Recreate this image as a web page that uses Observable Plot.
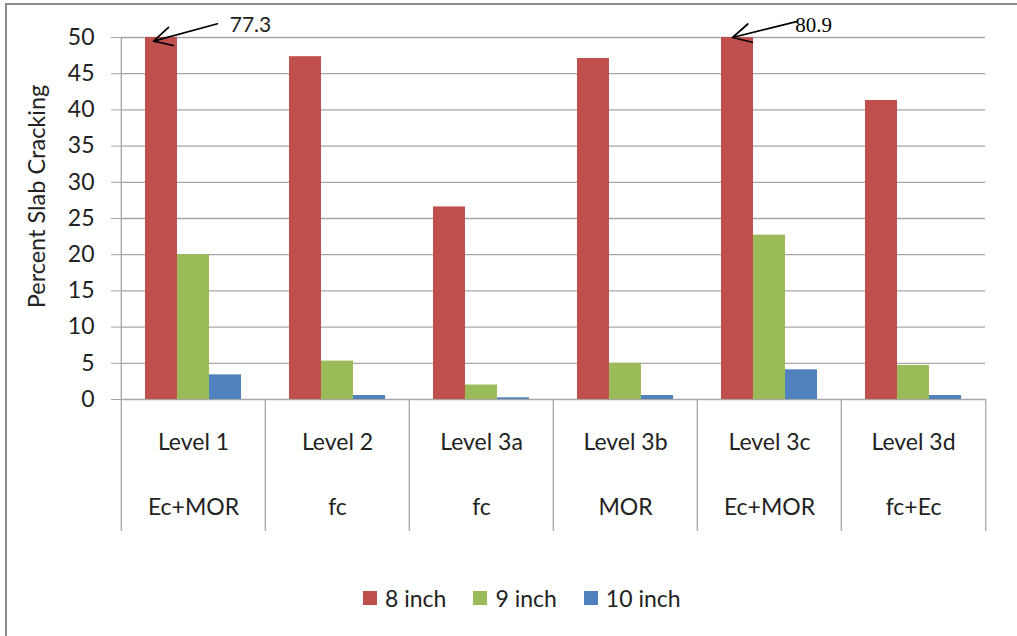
<!DOCTYPE html>
<html>
<head>
<meta charset="utf-8">
<script src="https://cdn.jsdelivr.net/npm/d3@7"></script>
<script src="https://cdn.jsdelivr.net/npm/@observablehq/plot@0.6"></script>
<style>
  html, body { margin: 0; padding: 0; background: #fff; overflow: hidden; }
  #page { position: relative; width: 1017px; height: 636px; overflow: hidden; font-family: Lato, "Open Sans", sans-serif; }
  #border { position: absolute; left: 5px; top: 3px; width: 1200px; height: 800px; border: 2px solid #8c8c8c; box-sizing: border-box; }
  #chart { position: absolute; left: 0; top: 0; }
  #legend { position: absolute; left: 363px; top: 584px; display: flex; align-items: center; font-size: 23px; color: #222; }
  #legend .item { display: flex; align-items: center; margin-right: 27px; }
  #legend .sw { width: 14px; height: 14px; margin-right: 8px; }
</style>
</head>
<body>
<div id="page">
  <div id="border"></div>
  <div id="chart"></div>
  <div id="legend"></div>
</div>
<script>
const categories = ["Level 1", "Level 2", "Level 3a", "Level 3b", "Level 3c", "Level 3d"];
const subLabels = ["Ec+MOR", "fc", "fc", "MOR", "Ec+MOR", "fc+Ec"];
const series = ["8 inch", "9 inch", "10 inch"];
const values8 = [77.3, 47.35, 26.6, 47.1, 80.9, 41.3];
const values9 = [20.0, 5.3, 2.0, 5.0, 22.7, 4.7];
const values10 = [3.4, 0.55, 0.23, 0.55, 4.1, 0.55];
const colors = ["#C0504D", "#9BBB59", "#4F81BD"];
const yTicks = [0, 5, 10, 15, 20, 25, 30, 35, 40, 45, 50];
const yLabel = "Percent Slab Cracking";
// annotations for bars that exceed the axis maximum
const annCategories = ["Level 1", "Level 3c"];
const annValues = [77.3, 80.9];

const seriesValues = [values8, values9, values10];
const table = [];
categories.forEach((c, i) => series.forEach((s, j) => table.push({category: c, series: s, value: seriesValues[j][i]})));

const W = 1017, H = 540, ML = 118, MR = 30, MT = 37, MB = 141;
const facetW = (W - ML - MR) / categories.length;
const outer = 0.75;
const edgeOffset = facetW * (outer + 0.5) / (series.length + 2 * outer);
const frameH = H - MT - MB;
const yMax = 50;
const grid = "#a6a6a6";

const ann = annCategories.map((c, i) => ({category: c, value: annValues[i], label: String(annValues[i])}));

const plot = Plot.plot({
  width: W, height: H,
  marginLeft: ML, marginRight: MR, marginTop: MT, marginBottom: MB,
  style: {fontFamily: "Lato, 'Open Sans', sans-serif", fontSize: "23px", color: "#222", background: "transparent", overflow: "visible"},
  fx: {domain: categories, padding: 0, axis: null},
  x: {domain: series, paddingInner: 0, paddingOuter: outer, axis: null},
  y: {domain: [0, yMax], axis: null},
  color: {domain: series, range: colors},
  marks: [
    Plot.ruleY(yTicks, {stroke: grid, strokeWidth: 1.3}),
    Plot.barY(table, {fx: "category", x: "series", y: "value", fill: "series", clip: true}),
    // y axis line (left of first facet)
    Plot.ruleX([categories[0]], {fx: d => d, x: () => series[0], dx: -edgeOffset, y1: 0, y2: yMax, stroke: grid, strokeWidth: 1.3}),
    // category table boundaries below the axis
    Plot.ruleX(categories, {fx: d => d, x: () => series[0], dx: -edgeOffset, insetTop: frameH, insetBottom: -132, stroke: grid, strokeWidth: 1.3}),
    Plot.ruleX([categories[categories.length - 1]], {fx: d => d, x: () => series[series.length - 1], dx: edgeOffset, insetTop: frameH, insetBottom: -132, stroke: grid, strokeWidth: 1.3}),
    Plot.axisY({ticks: yTicks, tickSize: 10, tickPadding: 17, label: null, stroke: grid, fill: "#222", fontSize: 23}),
    // rotated y-axis title
    Plot.text([yLabel], {fx: () => categories[0], frameAnchor: "left", text: d => d, rotate: -90, dx: -84, dy: -22, fontSize: 23.5, fill: "#222", textAnchor: "middle", lineAnchor: "middle"}),
    Plot.text(categories, {fx: d => d, frameAnchor: "bottom", dy: 43, text: d => d, fontSize: 23, fill: "#222", lineAnchor: "middle"}),
    Plot.text(categories, {fx: d => d, frameAnchor: "bottom", dy: 108, text: (d, i) => subLabels[i], fontSize: 23, fill: "#222", lineAnchor: "middle"}),
    // annotation arrows
    Plot.arrow([ann[0]], {fx: "category", x1: () => series[2], y1: yMax + 1.9, x2: () => series[0], y2: yMax - 0.5, dx: -8, stroke: "#000", strokeWidth: 1.7, headLength: 18, headAngle: 55}),
    Plot.arrow([ann[1]], {fx: "category", x1: () => series[2], y1: yMax + 2.2, x2: () => series[0], y2: yMax, dx: -5, stroke: "#000", strokeWidth: 1.7, headLength: 18, headAngle: 55}),
    Plot.text([ann[0]], {fx: "category", x: () => series[2], y: yMax + 1.65, dx: 25, text: "label", fontFamily: "Lato, sans-serif", fontSize: 21, fill: "#222", lineAnchor: "middle"}),
    Plot.text([ann[1]], {fx: "category", x: () => series[2], y: yMax + 1.7, dx: 12, text: "label", fontFamily: "'Liberation Serif', serif", fontSize: 21, fill: "#000", lineAnchor: "middle"})
  ]
});
document.getElementById("chart").appendChild(plot);

const legend = document.getElementById("legend");
series.forEach((s, i) => {
  const item = document.createElement("div");
  item.className = "item";
  const sw = document.createElement("div");
  sw.className = "sw";
  sw.style.background = colors[i];
  const t = document.createElement("span");
  t.textContent = s;
  item.appendChild(sw);
  item.appendChild(t);
  legend.appendChild(item);
});
</script>
</body>
</html>
